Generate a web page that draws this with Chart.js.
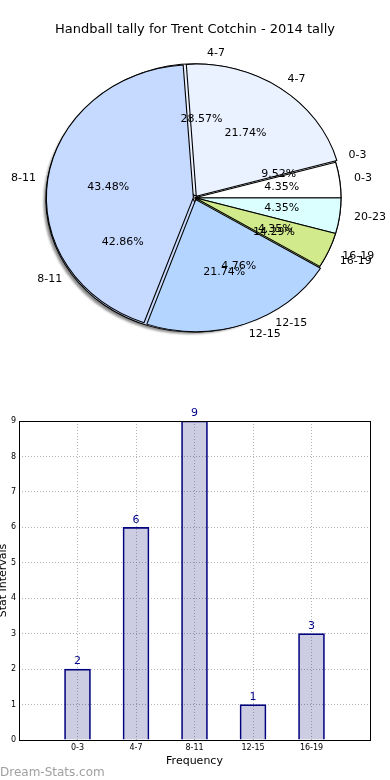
<!DOCTYPE html>
<html>
<head>
<meta charset="utf-8">
<script src="https://cdn.jsdelivr.net/npm/chart.js@4.4.1/dist/chart.umd.min.js"></script>
<style>
  body { margin: 0; background: #fff; width: 390px; height: 780px; position: relative; overflow: hidden; }
  canvas { position: absolute; left: 0; }
  #pieBack, #pieFront { top: 0; }
  #bars { top: 400px; }
</style>
</head>
<body>
<canvas id="pieBack" width="390" height="348"></canvas>
<canvas id="pieFront" width="390" height="348"></canvas>
<canvas id="bars" width="390" height="380"></canvas>
<script>
const chartTitle = 'Handball tally for Trent Cotchin - 2014 tally';
const categories = ['0-3', '4-7', '8-11', '12-15', '16-19', '20-23'];
// two tallies drawn as overlapping pies
const firstTally = [2, 6, 9, 1, 3];
const secondTally = [1, 5, 10, 5, 1, 1];
// bar chart
const barLabels = ['0-3', '4-7', '8-11', '12-15', '16-19'];
const barValues = [2, 6, 9, 1, 3];

const sliceColours = ['#ffffff', '#eaf1ff', '#c6d9ff', '#b4d5ff', '#d0ea8c', '#dbffff'];
const backOffsets = [0, 8, 8, 0, 0];
const frontOffsets = [0, 8, 6, 8, 0, 0];

Chart.defaults.font.family = '"DejaVu Sans"';
Chart.defaults.color = '#000';

const sx = 146 / 132; // the pie is stretched sideways, like the original

// chart.js moves an exploded arc this far along its middle angle
function shift(arc) {
  const off = (arc.options.offset || 0) / 4;
  const f = off * (2 - Math.sin(Math.min(Math.PI, arc.endAngle - arc.startAngle)));
  const mid = (arc.startAngle + arc.endAngle) / 2;
  return [Math.cos(mid) * f, Math.sin(mid) * f];
}

const ellipse = {
  id: 'ellipse',
  beforeDatasetsDraw(chart, args, opts) {
    const ctx = chart.ctx;
    const arcs = chart.getDatasetMeta(0).data;
    const cx = arcs[0].x, cy = arcs[0].y;
    ctx.save();
    ctx.translate(cx, cy);
    ctx.scale(sx, 1);
    ctx.translate(-cx, -cy);
    if (opts.shadow) {
      ctx.save();
      ctx.fillStyle = 'rgba(0,0,0,0.45)';
      ctx.filter = 'blur(1px)';
      arcs.forEach(a => {
        const [dx, dy] = shift(a);
        const x = a.x + dx - 2.5 / sx, y = a.y + dy + 2.5;
        ctx.beginPath();
        ctx.moveTo(x, y);
        ctx.arc(x, y, a.outerRadius, a.startAngle, a.endAngle);
        ctx.closePath();
        ctx.fill();
      });
      ctx.restore();
    }
  },
  afterDatasetsDraw(chart) {
    chart.ctx.restore();
  }
};

function pieConfig(values, offsets, extra) {
  // matplotlib goes anticlockwise from 3 o'clock, chart.js clockwise: reverse the order
  const n = values.length;
  return {
    type: 'pie',
    data: {
      labels: categories.slice(0, n).reverse(),
      datasets: [{
        data: values.slice().reverse(),
        backgroundColor: sliceColours.slice(0, n).reverse(),
        offset: offsets.slice().reverse(),
        borderColor: '#000',
        borderWidth: 1
      }]
    },
    options: Object.assign({
      responsive: false,
      animation: false,
      events: [],
      rotation: 90,
      radius: 132
    }, extra.options),
    plugins: [ellipse].concat(extra.plugins || [])
  };
}

const backChart = new Chart(document.getElementById('pieBack'), pieConfig(firstTally, backOffsets, {
  options: {
    layout: { padding: { top: 47.6 } },
    plugins: { legend: { display: false }, tooltip: { enabled: false }, ellipse: { shadow: true } }
  }
}));

const pieLabels = {
  id: 'pieLabels',
  afterDraw(chart) {
    const ctx = chart.ctx;
    ctx.save();
    ctx.font = '11px "DejaVu Sans"';
    ctx.fillStyle = '#000';
    ctx.textBaseline = 'middle';
    [backChart, chart].forEach(c => {
      const meta = c.getDatasetMeta(0);
      const data = c.data.datasets[0].data;
      const total = data.reduce((s, v) => s + v, 0);
      meta.data.forEach((a, i) => {
        const mid = (a.startAngle + a.endAngle) / 2;
        const px = k => a.x + sx * k * a.outerRadius * Math.cos(mid);
        const py = k => a.y + k * a.outerRadius * Math.sin(mid);
        ctx.textAlign = Math.cos(mid) > 0 ? 'left' : 'right';
        ctx.fillText(c.data.labels[i], px(1.1), py(1.1));
        ctx.textAlign = 'center';
        ctx.fillText((data[i] / total * 100).toFixed(2) + '%', px(0.6), py(0.6));
      });
    });
    ctx.restore();
  }
};

new Chart(document.getElementById('pieFront'), pieConfig(secondTally, frontOffsets, {
  options: {
    plugins: {
      legend: { display: false },
      tooltip: { enabled: false },
      ellipse: { shadow: false },
      title: {
        display: true,
        text: chartTitle,
        color: '#000',
        font: { size: 13, weight: 'normal' },
        padding: { top: 22, bottom: 10 }
      }
    }
  },
  plugins: [pieLabels]
}));

// bar chart
const frame = {
  id: 'frame',
  afterDatasetsDraw(chart) {
    const { ctx, chartArea: a } = chart;
    ctx.save();
    ctx.strokeStyle = '#000';
    ctx.lineWidth = 1;
    ctx.strokeRect(Math.round(a.left) + 0.5, Math.round(a.top) + 0.5, Math.round(a.right - a.left), Math.round(a.bottom - a.top));
    ctx.restore();
  }
};

const valueLabels = {
  id: 'valueLabels',
  afterDraw(chart) {
    const ctx = chart.ctx;
    ctx.save();
    ctx.font = '11px "DejaVu Sans"';
    ctx.fillStyle = '#00008b';
    ctx.textAlign = 'center';
    ctx.textBaseline = 'bottom';
    chart.getDatasetMeta(0).data.forEach((bar, i) => {
      ctx.fillText(String(barValues[i]), bar.x, bar.y - 2);
    });
    ctx.font = '12px "DejaVu Sans"';
    ctx.fillStyle = '#a0a0a0';
    ctx.textAlign = 'left';
    ctx.textBaseline = 'alphabetic';
    ctx.fillText('Dream-Stats.com', 0, chart.height - 4);
    ctx.restore();
  }
};

const gridStyle = { color: '#b4b4b4', lineWidth: 1, drawTicks: false, offset: false };

new Chart(document.getElementById('bars'), {
  type: 'bar',
  data: {
    datasets: [{
      data: barValues.map((v, i) => ({ x: i, y: v })),
      backgroundColor: 'rgba(0,0,110,0.2)',
      borderColor: '#000080',
      borderWidth: 1,
      borderSkipped: 'bottom',
      barThickness: 26
    }]
  },
  options: {
    responsive: false,
    animation: false,
    events: [],
    layout: { padding: { top: 21, right: 20, bottom: 12, left: 0 } },
    plugins: { legend: { display: false }, tooltip: { enabled: false } },
    scales: {
      x: {
        type: 'linear',
        min: -1,
        max: 5,
        offset: false,
        afterFit(s) { s.height = 28; },
        ticks: {
          stepSize: 1,
          autoSkip: false,
          maxRotation: 0,
          padding: 3,
          font: { size: 8 },
          callback: v => barLabels[v] ?? ''
        },
        grid: gridStyle,
        border: { display: false, dash: [1, 2] },
        title: { display: true, text: 'Frequency', font: { size: 11 }, padding: 0 }
      },
      y: {
        min: 0,
        max: 9,
        afterFit(s) { s.width = 19; },
        ticks: { stepSize: 1, padding: 3, font: { size: 8 } },
        grid: gridStyle,
        border: { display: false, dash: [1, 2] },
        title: { display: true, text: 'Stat Intervals', font: { size: 11 }, padding: { top: -3, bottom: 0 } }
      }
    }
  },
  plugins: [frame, valueLabels]
});
</script>
</body>
</html>
